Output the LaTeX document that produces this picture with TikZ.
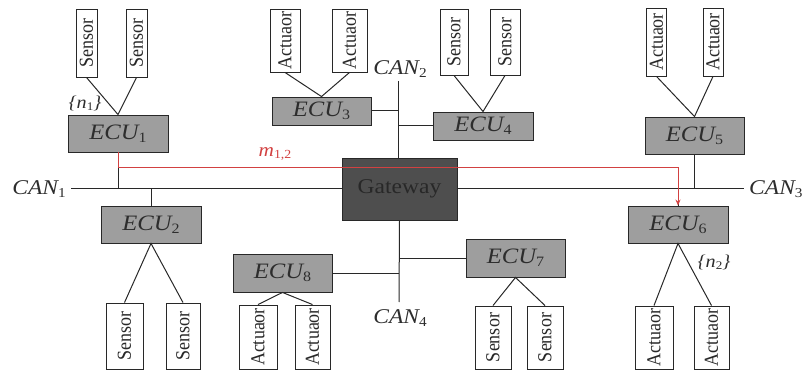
\documentclass[tikz,border=0pt]{standalone}
\usepackage{fontspec}
\setmainfont{Liberation Serif}
\usepackage{graphicx}
\usetikzlibrary{arrows.meta,calc}
\definecolor{linec}{RGB}{40,40,40}
\definecolor{ecufill}{RGB}{158,158,158}
\definecolor{ecutext}{RGB}{45,45,45}
\definecolor{gwfill}{RGB}{78,78,78}
\definecolor{gwtext}{RGB}{40,40,40}
\definecolor{msgred}{RGB}{210,65,65}
\newcommand\sbs[1]{\raisebox{-0.3ex}{\scalebox{0.65}{\upshape #1}}}
\newcommand\hs[1]{\scalebox{1.12}[1]{#1}}
\newcommand\vt[1]{\rotatebox{90}{\scalebox{1}[1.1]{#1}}}
\begin{document}
\begin{tikzpicture}[x=1pt,y=-1pt,
  devbox/.style={draw=linec, line width=0.9pt, fill=white, inner sep=0pt, font=\fontsize{18}{18}\selectfont, text=linec},
  ecubox/.style={draw=linec, line width=0.9pt, fill=ecufill, inner sep=0pt, minimum width=100pt, font=\fontsize{22}{22}\selectfont\itshape, text=ecutext},
  wire/.style={draw=linec, line width=1pt},
  lbl/.style={inner sep=1pt, font=\fontsize{21}{21}\selectfont\itshape, text=ecutext},
  msg/.style={draw=msgred, line width=0.9pt, -{Stealth[length=6pt,width=5pt]}}]
\useasboundingbox (0,0) rectangle (808,374);

% Gateway
\node[draw=linec, line width=0.9pt, fill=gwfill, minimum width=115pt, minimum height=62pt, inner sep=0pt,
      font=\fontsize{21}{21}\selectfont, text=gwtext] (gw) at (399.5,189) {\hs{Gateway}};

% bus coordinates
\coordinate (can1L) at (71,189);
\coordinate (can3R) at (744,189);
\coordinate (can2T) at (398,81);
\coordinate (can4B) at (399,302);
\coordinate (mrow) at (0,167);

% ECUs
\node[ecubox, minimum height=37pt] (e1) at (118,133.5) {\hs{ECU\sbs{1}}};
\node[ecubox, minimum height=37pt] (e2) at (151,224.5) {\hs{ECU\sbs{2}}};
\node[ecubox, minimum width=99pt, minimum height=28pt] (e3) at (321.5,111) {\hs{ECU\sbs{3}}};
\node[ecubox, minimum height=28pt] (e4) at (483,126) {\hs{ECU\sbs{4}}};
\node[ecubox, minimum width=99pt, minimum height=37pt] (e5) at (694.5,135.5) {\hs{ECU\sbs{5}}};
\node[ecubox, minimum height=37pt] (e6) at (678,224.5) {\hs{ECU\sbs{6}}};
\node[ecubox, minimum width=99pt, minimum height=38pt] (e7) at (515.5,258) {\hs{ECU\sbs{7}}};
\node[ecubox, minimum width=99pt, minimum height=38pt] (e8) at (282.5,273) {\hs{ECU\sbs{8}}};

% top devices
\node[devbox, minimum width=21pt, minimum height=68pt] (s11) at (86.5,43) {\vt{Sensor}};
\node[devbox, minimum width=21pt, minimum height=68pt] (s12) at (136.5,43) {\vt{Sensor}};
\node[devbox, minimum width=30pt, minimum height=63pt] (a31) at (285,40.5) {\vt{Actuaor}};
\node[devbox, minimum width=35pt, minimum height=63pt] (a32) at (349.5,40.5) {\vt{Actuaor}};
\node[devbox, minimum width=28pt, minimum height=66pt] (s41) at (454,42) {\vt{Sensor}};
\node[devbox, minimum width=30pt, minimum height=66pt] (s42) at (505,42) {\vt{Sensor}};
\node[devbox, minimum width=20pt, minimum height=68pt] (a51) at (656.5,42) {\vt{Actuaor}};
\node[devbox, minimum width=20pt, minimum height=68pt] (a52) at (713,42) {\vt{Actuaor}};

% bottom devices
\node[devbox, minimum width=37pt, minimum height=66pt] (s21) at (124.5,336) {\vt{Sensor}};
\node[devbox, minimum width=34pt, minimum height=66pt] (s22) at (183,336) {\vt{Sensor}};
\node[devbox, minimum width=38pt, minimum height=64pt] (a81) at (258,337) {\vt{Actuaor}};
\node[devbox, minimum width=35pt, minimum height=64pt] (a82) at (312.5,337) {\vt{Actuaor}};
\node[devbox, minimum width=36pt, minimum height=63pt] (s71) at (493,337.5) {\vt{Sensor}};
\node[devbox, minimum width=36pt, minimum height=63pt] (s72) at (545,337.5) {\vt{Sensor}};
\node[devbox, minimum width=38pt, minimum height=63pt] (a61) at (654,337.5) {\vt{Actuaor}};
\node[devbox, minimum width=35pt, minimum height=63pt] (a62) at (711.5,337.5) {\vt{Actuaor}};

% device links
\draw[wire] (s11.south) -- (e1.north) -- (s12.south);
\draw[wire] (a31.south) -- (e3.north) -- (a32.south);
\draw[wire] (s41.south) -- (e4.north) -- (s42.south);
\draw[wire] (a51.south) -- (e5.north) -- (a52.south);
\draw[wire] (s21.north) -- (e2.south) -- (s22.north);
\draw[wire] (a81.north) -- (e8.south) -- (a82.north);
\draw[wire] (s71.north) -- (e7.south) -- (s72.north);
\draw[wire] (a61.north) -- (e6.south) -- (a62.north);

% buses
\draw[wire] (can1L) -- (gw.west);
\draw[wire] (gw.east) -- (can3R);
\draw[wire] (can2T) -- (can2T |- gw.north);
\draw[wire] (gw.south) -- (can4B);

% ECU to bus
\draw[wire] (e1.south) -- (e1.south |- can1L);
\draw[wire] (e2.north) -- (e2.north |- can1L);
\draw[wire] (e3.east) -- (e3.east -| can2T);
\draw[wire] (e4.west) -- (e4.west -| can2T);
\draw[wire] (e5.south) -- (e5.south |- can3R);
\draw[wire] (e6.north) -- (e6.north |- can3R);
\draw[wire] (e7.west) -- (e7.west -| can4B);
\draw[wire] (e8.east) -- (e8.east -| can4B);

% labels
\node[lbl, anchor=east] (lc1) at ($(can1L)+(-4,0)$) {\hs{CAN\sbs{1}}};
\node[lbl, anchor=west] (lc3) at ($(can3R)+(4,0)$) {\hs{CAN\sbs{3}}};
\node[lbl] (lc2) at (400,69) {\hs{CAN\sbs{2}}};
\node[lbl] (lc4) at (400,318) {\hs{CAN\sbs{4}}};
\node[lbl, font=\fontsize{18}{18}\selectfont\itshape] (n1) at (85,103) {\hs{\{n\sbs{1}\}}};
\node[lbl, font=\fontsize{18}{18}\selectfont\itshape] (n2) at (714,262) {\hs{\{n\sbs{2}\}}};

% message path
\draw[msg] (e1.south) -- (e1.south |- mrow) -| (e6.north);
\node[lbl, text=msgred, font=\fontsize{19}{19}\selectfont\itshape] (m12) at (275,154) {\hs{m\sbs{1,2}}};
\end{tikzpicture}
\end{document}
